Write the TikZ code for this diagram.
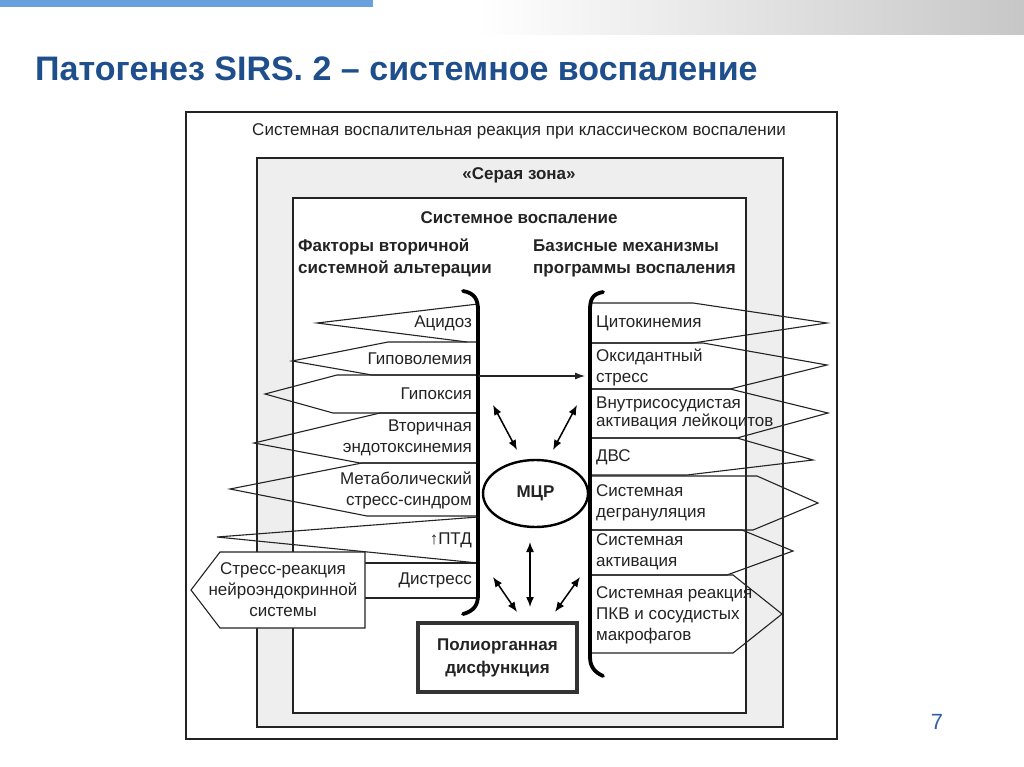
\documentclass[tikz,border=0pt]{standalone}
\usepackage{fontspec}
\setmainfont{Liberation Sans}
\usetikzlibrary{shapes.geometric,arrows.meta}
\definecolor{titleblue}{RGB}{31,78,140}
\definecolor{numblue}{RGB}{46,95,168}
\definecolor{barblue}{RGB}{105,160,222}
\definecolor{zone}{RGB}{238,238,238}
\definecolor{ink}{RGB}{35,35,35}
\begin{document}
\begin{tikzpicture}[x=1pt,y=-1pt,
  frame/.style={draw=ink, line width=1.3pt},
  shp/.style={draw=ink, line width=1.1pt, line join=miter},
  brk/.style={draw=black, line width=3.8pt, line cap=round},
  dbl/.style={{Latex[length=10pt,width=8pt]}-{Latex[length=10pt,width=8pt]}, line width=1.5pt, draw=black},
  lbl/.style={font=\fontsize{17}{21}\selectfont, inner sep=0pt, text=ink},
  bld/.style={font=\bfseries\fontsize{17}{22}\selectfont, inner sep=0pt, text=ink},
]
\useasboundingbox (0,0) rectangle (1024,767);
% slide decoration
\fill[barblue] (0,0) rectangle (373,7);
\shade[left color=white, right color=black!22] (478,0) rectangle (1024,35);
\node[anchor=base west, inner sep=0pt, font=\bfseries\fontsize{34}{38}\selectfont, text=titleblue] (title) at (35,81) {Патогенез SIRS. 2 – системное воспаление};
\node[inner sep=0pt, font=\fontsize{22}{26}\selectfont, text=numblue] (pg) at (937,722) {7};

% frames
\path[frame, fill=white] (186,112) rectangle (837,739);
\path[frame, fill=zone] (257,158) rectangle (783,727);
\path[frame, fill=white] (293,198) rectangle (746,713);

\node[lbl] (hdr) at (519,131) {Системная воспалительная реакция при классическом воспалении};
\node[bld] (gz) at (519,175) {«Серая зона»};
\node[bld] (sv) at (519,218) {Системное воспаление};
\node[bld, anchor=west, align=left] (lh) at (298,258) {Факторы вторичной\\системной альтерации};
\node[bld, anchor=west, align=left] (rh) at (533,258) {Базисные механизмы\\программы воспаления};

% left shapes (outline only)
\draw[shp] (478,304) -- (317,323) -- (467,342);
\draw[shp] (478,342) -- (388,342) -- (292,361) -- (372,375) -- (478,375);
\draw[shp] (478,375) -- (337,375) -- (265,394) -- (333,413) -- (478,413);
\draw[shp] (478,413) -- (380,413) -- (254,443) -- (360,463) -- (478,463);
\draw[shp] (478,463) -- (362,463) -- (230,489) -- (367,516) -- (478,516);
\draw[shp] (478,517) -- (217,537) -- (478,563);
\draw[shp] (365,563) -- (478,563) (365,598) -- (478,598);
\draw[shp, fill=white] (220,552) -- (365,552) -- (365,628) -- (220,628) -- (191,590) -- cycle;

% right shapes (outline only)
\draw[shp] (590,303) -- (693,303) -- (827,323) -- (693,343) -- (590,343);
\draw[shp] (590,343) -- (703,343) -- (827,365) -- (730,389) -- (590,389);
\draw[shp] (590,389) -- (730,389) -- (828,413) -- (737,438) -- (590,438);
\draw[shp] (590,438) -- (737,438) -- (813,460) -- (687,475) -- (590,475);
\draw[shp] (590,476) -- (757,476) -- (818,503) -- (753,530) -- (590,530);
\draw[shp] (590,530) -- (742,530) -- (793,551) -- (727,575) -- (590,575);
\draw[shp] (590,575) -- (733,575) -- (782,614) -- (733,653) -- (590,653);

% left labels
\node[lbl, anchor=east] (acid) at (472,323) {Ацидоз};
\node[lbl, anchor=east] (hypov) at (472,359) {Гиповолемия};
\node[lbl, anchor=east] (hypox) at (472,394) {Гипоксия};
\node[lbl, anchor=east, align=right] (endo) at (472,438) {Вторичная\\эндотоксинемия};
\node[lbl, anchor=east, align=right] (metab) at (472,490) {Метаболический\\стресс-синдром};
\node[lbl, anchor=east] (ptd) at (472,540) {↑ПТД};
\node[lbl, anchor=east] (distr) at (472,580) {Дистресс};
\node[lbl, align=center] (stress) at (283,590) {Стресс-реакция\\нейроэндокринной\\системы};

% right labels
\node[lbl, anchor=west] (cyto) at (596,323) {Цитокинемия};
\node[lbl, anchor=west, align=left] (oxid) at (596,367) {Оксидантный\\стресс};
\node[lbl, anchor=west, align=left, font=\fontsize{17}{18}\selectfont] (leuk) at (596,413) {Внутрисосудистая\\активация лейкоцитов};
\node[lbl, anchor=west] (dvs) at (596,457) {ДВС};
\node[lbl, anchor=west, align=left] (degr) at (596,503) {Системная\\дегрануляция};
\node[lbl, anchor=west, align=left] (activ) at (596,552) {Системная\\активация};
\node[lbl, anchor=west, align=left] (pkv) at (596,615) {Системная реакция\\ПКВ и сосудистых\\макрофагов};

% brackets
\draw[brk] (463,291) .. controls (475,293) and (478,300) .. (478,310) -- (478,595) .. controls (478,605) and (474,611) .. (463,614);
\draw[brk] (603,292) .. controls (592,294) and (590,300) .. (590,310) -- (590,657) .. controls (590,666) and (594,672) .. (603,676);

% centre
\node[ellipse, draw=black, line width=2.4pt, minimum width=105pt, minimum height=67pt, inner sep=0pt, font=\bfseries\fontsize{17}{20}\selectfont, text=ink] (mcr) at (535.5,493.5) {МЦР};
\node[draw=black!80, line width=3.4pt, minimum width=159pt, minimum height=69pt, inner sep=0pt, align=center, font=\bfseries\fontsize{17}{23}\selectfont, text=ink] (pod) at (497.5,657.5) {Полиорганная\\дисфункция};

% connectors
\coordinate (lA) at (478,376);
\coordinate (rA) at (585,376);
\draw[-{Latex[length=10pt,width=7pt]}, line width=1.1pt, draw=ink] (lA) -- (rA);
\coordinate (ul1) at (493,405); \coordinate (ul2) at (517,450);
\coordinate (ur1) at (577,405); \coordinate (ur2) at (553,450);
\coordinate (m1) at (530,542); \coordinate (m2) at (530,607);
\coordinate (ll1) at (493,577); \coordinate (ll2) at (517,612);
\coordinate (lr1) at (580,577); \coordinate (lr2) at (555,612);
\draw[dbl] (ul1) -- (ul2);
\draw[dbl] (ur1) -- (ur2);
\draw[dbl] (m1) -- (m2);
\draw[dbl] (ll1) -- (ll2);
\draw[dbl] (lr1) -- (lr2);
\end{tikzpicture}
\end{document}
